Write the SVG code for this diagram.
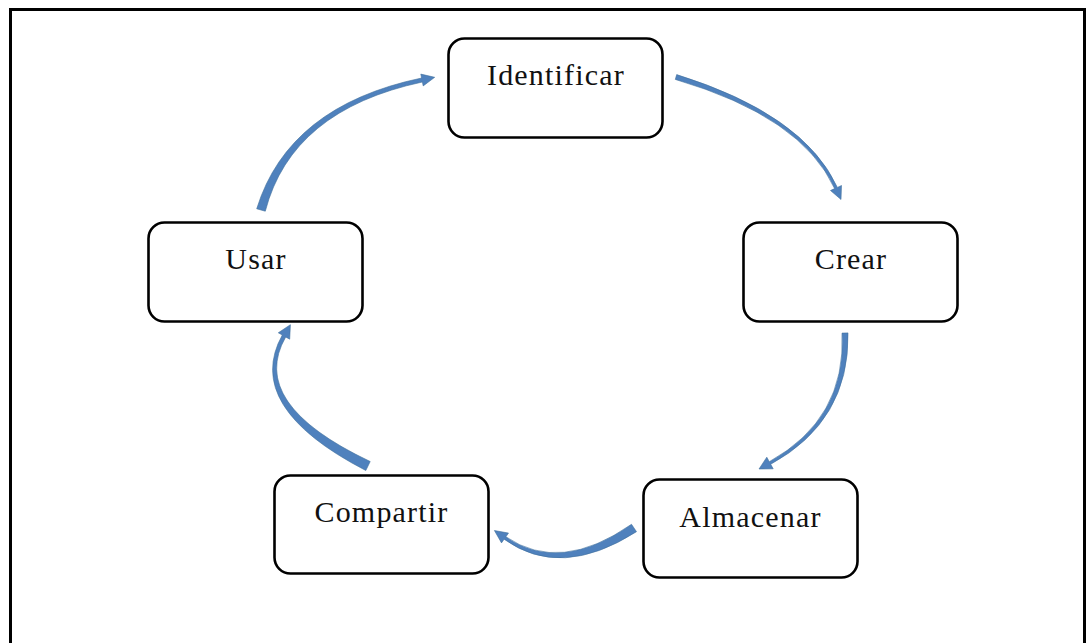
<svg xmlns="http://www.w3.org/2000/svg" width="1086" height="643" viewBox="0 0 1086 643">
  <style>
    .box { fill: #ffffff; stroke: #000000; stroke-width: 2.6; }
    .lbl { font-family: "Liberation Serif", "Times New Roman", serif; font-size: 30px; letter-spacing: 1.2px; fill: #111111; text-anchor: middle; }
    .arrow { fill: #4f81bd; stroke: #41719c; stroke-width: 0.6; stroke-linejoin: round; }
  </style>
  <rect width="1086" height="643" fill="#ffffff"/>
  <!-- page frame -->
  <rect x="10.5" y="9.5" width="1074" height="700" fill="none" stroke="#000000" stroke-width="3"/>

  <g id="connectors">
    <!-- Identificar -> Crear -->
    <path class="arrow" d="M675.3,79.4 Q802.1,116.7 834.6,188.6 L830.5,190.5 L841,199.5 L841.5,185.5 L837.4,187.4 Q803.9,114.3 676.7,74.6 Z"/>
    <!-- Crear -> Almacenar -->
    <path class="arrow" d="M842,333.1 Q846.3,419 769.3,461.7 L766.8,457.2 L759,469 L773.2,468.8 L770.7,464.3 Q849.7,421 848,332.9 Z"/>
    <!-- Almacenar -> Compartir -->
    <path class="arrow" d="M631.5,524.3 Q560.3,574 505.9,536.8 L508.5,533.1 L494.4,530.5 L501.5,542.9 L504.1,539.2 Q560.7,580 636.5,531.7 Z"/>
    <!-- Compartir -> Usar -->
    <path class="arrow" d="M370.2,461.5 Q247.5,403.4 285.7,337 L289.7,339.2 L290.4,324.7 L278.3,332.8 L282.3,335 Q242.5,406.6 365.8,470.5 Z"/>
    <!-- Usar -> Identificar -->
    <path class="arrow" d="M265.3,211.2 Q291.6,110 422.4,82 L423.2,85.9 L434.7,77.3 L420.8,74.1 L421.6,78 Q288.4,106 256.7,208.8 Z"/>
  </g>

  <g id="identificar">
    <rect class="box" x="448.5" y="38.5" width="214" height="99" rx="16"/>
    <text class="lbl" x="556" y="85">Identificar</text>
  </g>
  <g id="crear">
    <rect class="box" x="743.5" y="222.5" width="214" height="99" rx="16"/>
    <text class="lbl" x="851" y="269">Crear</text>
  </g>
  <g id="usar">
    <rect class="box" x="148.5" y="222.5" width="214" height="99" rx="16"/>
    <text class="lbl" x="256" y="269">Usar</text>
  </g>
  <g id="compartir">
    <rect class="box" x="274.5" y="475.5" width="214" height="98" rx="16"/>
    <text class="lbl" x="381.5" y="522">Compartir</text>
  </g>
  <g id="almacenar">
    <rect class="box" x="643.5" y="479.5" width="214" height="98" rx="16"/>
    <text class="lbl" x="750.5" y="527">Almacenar</text>
  </g>
</svg>
